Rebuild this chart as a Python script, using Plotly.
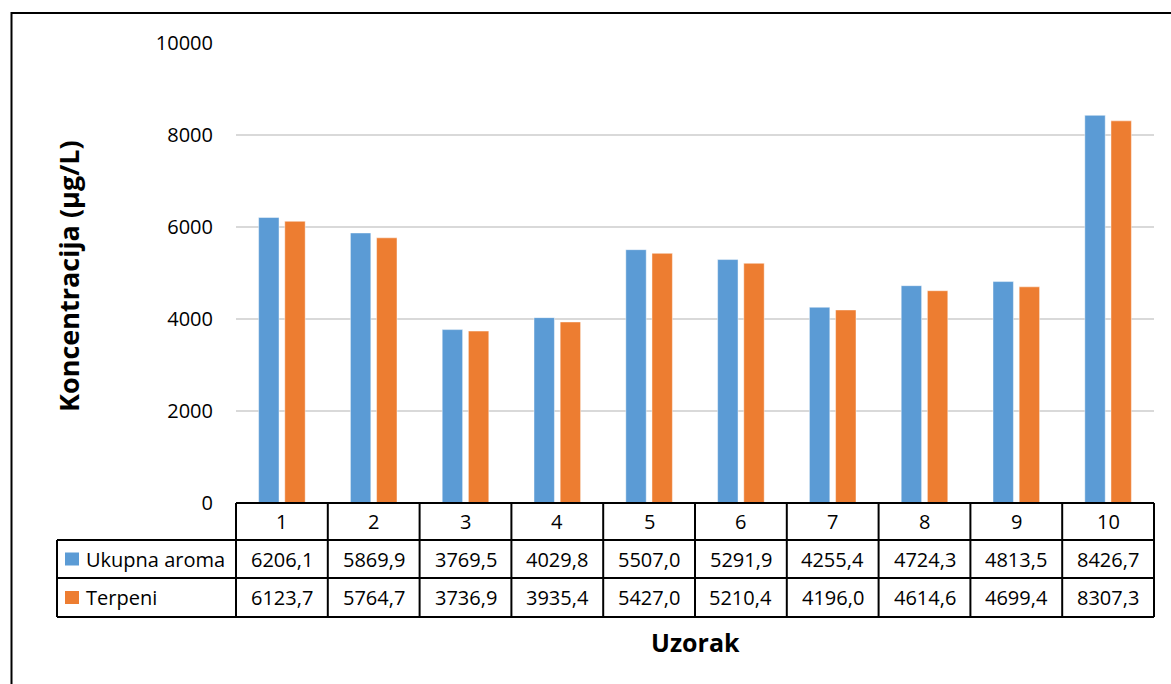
import plotly.graph_objects as go

categories = ["1", "2", "3", "4", "5", "6", "7", "8", "9", "10"]
ukupna_aroma = [6206.1, 5869.9, 3769.5, 4029.8, 5507.0, 5291.9, 4255.4, 4724.3, 4813.5, 8426.7]
terpeni = [6123.7, 5764.7, 3736.9, 3935.4, 5427.0, 5210.4, 4196.0, 4614.6, 4699.4, 8307.3]
series_names = ["Ukupna aroma", "Terpeni"]
series_colors = ["#5B9BD5", "#ED7D31"]
y_ticks = [0, 2000, 4000, 6000, 8000, 10000]

W, H = 1171, 684
L, R, T, B = 236, 1154, 43, 503  # plot area in pixels
FONT = "Open Sans"


def px(x):
    return (x - L) / (R - L)


def py(y):
    return (B - y) / (B - T)


fig = go.Figure()
for name, vals, col in zip(series_names, [ukupna_aroma, terpeni], series_colors):
    fig.add_trace(go.Bar(
        x=categories, y=vals, name=name,
        marker=dict(color=col, line=dict(color="rgba(255,255,255,0.45)", width=1)),
        showlegend=False,
    ))

shapes = []
annotations = []
line = dict(color="black", width=2)

# table geometry (pixels)
row_top, row1, row2, row_bot = 503, 540, 578, 617
label_left = 57
n = len(categories)
colw = (R - L) / n

# horizontal lines
shapes.append(dict(type="line", xref="paper", yref="paper", x0=px(L), x1=px(R), y0=py(row_top), y1=py(row_top), line=line))
for yy in (row1, row2, row_bot):
    shapes.append(dict(type="line", xref="paper", yref="paper", x0=px(label_left), x1=px(R), y0=py(yy), y1=py(yy), line=line))
# vertical lines
shapes.append(dict(type="line", xref="paper", yref="paper", x0=px(label_left), x1=px(label_left), y0=py(row1), y1=py(row_bot), line=line))
for i in range(n + 1):
    xx = L + i * colw
    shapes.append(dict(type="line", xref="paper", yref="paper", x0=px(xx), x1=px(xx), y0=py(row_top), y1=py(row_bot), line=line))

# header row: categories (category index used as x position)
for i, c in enumerate(categories):
    annotations.append(dict(x=i, xref="x", y=py((row_top + row1) / 2), yref="paper", text=c,
                            showarrow=False, xanchor="center", yanchor="middle",
                            font=dict(family=FONT, size=20, color="black")))

# data rows
for (ytop, ybot), name, vals, col in zip([(row1, row2), (row2, row_bot)], series_names, [ukupna_aroma, terpeni], series_colors):
    yc = (ytop + ybot) / 2
    shapes.append(dict(type="rect", xref="paper", yref="paper", x0=px(65), x1=px(79), y0=py(yc - 6.5), y1=py(yc + 6.5),
                       fillcolor=col, line=dict(width=0)))
    annotations.append(dict(x=px(84), xref="paper", y=py(yc), yref="paper", text=name, showarrow=False,
                            xanchor="left", yanchor="middle", font=dict(family=FONT, size=20, color="black")))
    for i, v in enumerate(vals):
        annotations.append(dict(x=i, xref="x", y=py(yc), yref="paper", text=f"{v:.1f}".replace(".", ","),
                                showarrow=False, xanchor="center", yanchor="middle",
                                font=dict(family=FONT, size=20, color="black")))

# axis titles
annotations.append(dict(x=px(68), xref="paper", y=py(276), yref="paper", text="<b>Koncentracija (µg/L)</b>",
                        textangle=-90, showarrow=False, xanchor="center", yanchor="middle",
                        font=dict(family=FONT, size=27, color="black")))
annotations.append(dict(x=0.5, xref="paper", y=py(642), yref="paper", text="<b>Uzorak</b>",
                        showarrow=False, xanchor="center", yanchor="middle",
                        font=dict(family=FONT, size=25, color="black")))

# outer frame (left and top edges)
shapes.append(dict(type="line", xref="paper", yref="paper", x0=px(11.5), x1=px(11.5), y0=py(12), y1=py(H + 2), line=line))
shapes.append(dict(type="line", xref="paper", yref="paper", x0=px(11), x1=px(W + 2), y0=py(13), y1=py(13), line=line))

fig.update_layout(
    width=W, height=H,
    margin=dict(l=L, r=W - R, t=T, b=H - B, autoexpand=False),
    paper_bgcolor="white", plot_bgcolor="white",
    barmode="group", bargap=0.43, bargroupgap=0.22,
    shapes=shapes, annotations=annotations,
    font=dict(family=FONT, size=20, color="black"),
    xaxis=dict(type="category", categoryorder="array", categoryarray=categories,
               showticklabels=False, showgrid=False, zeroline=False, showline=False, ticks=""),
    yaxis=dict(range=[0, 10000], tickvals=y_ticks, ticktext=[str(t) for t in y_ticks],
               showgrid=True, gridcolor="#D9D9D9", gridwidth=1.5, zeroline=False, showline=False,
               ticks="", ticklabelstandoff=22,
               tickfont=dict(family=FONT, size=20, color="black")),
)

fig.write_html("out.html", config={"displayModeBar": False},
               post_script="document.body.style.margin='0';document.body.style.overflow='hidden';")
